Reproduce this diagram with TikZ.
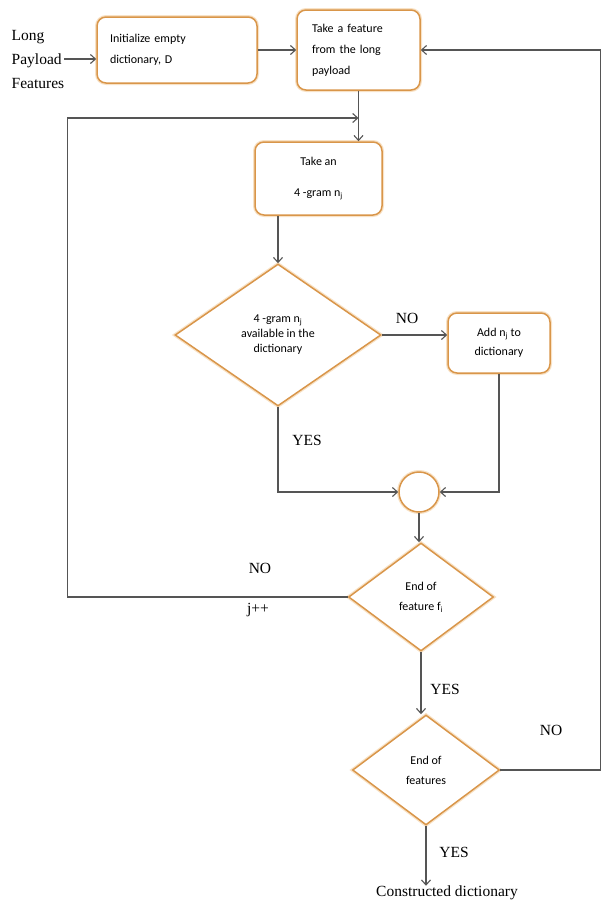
\documentclass[tikz,border=0pt]{standalone}
\usepackage{fontspec}
\setmainfont{Liberation Serif}
\newfontfamily\boxfont{Carlito}
\usepackage{tikz}
\usetikzlibrary{positioning, shapes.geometric, calc, arrows.meta}
\definecolor{Amber}{HTML}{D9964A}
\definecolor{Glow}{HTML}{F8E2C6}
\definecolor{Slate}{HTML}{555555}

\begin{document}
\begin{tikzpicture}[x=1pt, y=-1pt,
    every node/.style={font=\fontsize{15.5}{24}\selectfont},
    procbox/.style={rectangle, rounded corners=9pt, draw=Amber, line width=1.5pt,
        preaction={draw=Glow, line width=4pt}, fill=white, inner sep=0pt,
        font=\boxfont\fontsize{12}{21}\selectfont},
    decision/.style={diamond, draw=Amber, line width=1.5pt,
        preaction={draw=Glow, line width=4pt}, fill=white, inner sep=0pt,
        align=center, font=\boxfont\fontsize{12}{20}\selectfont},
    flow/.style={draw=Slate, line width=1.1pt},
    arr/.style={flow, -{Straight Barb[length=5pt, width=9pt]}},
    lbl/.style={inner sep=0pt}]
\useasboundingbox (0,0) rectangle (603,900);

% boxes and decisions
\node[lbl, align=left] (feat) at (38,59) {Long\\Payload\\Features};
\node[procbox, minimum width=160pt, minimum height=66pt, text width=134pt,
      align=left] (init) at (177,50) {Initialize empty\\dictionary, D};
\node[procbox, minimum width=123pt, minimum height=80pt, text width=93pt,
      align=left] (take) at (358.5,50) {Take a feature\\from the long\\payload};
\node[procbox, minimum width=127pt, minimum height=73pt, align=center,
      font=\boxfont\fontsize{12}{31}\selectfont] (gram) at (318.5,178.5)
      {Take an\\4 -gram n\textsubscript{j}};
\node[decision, minimum width=206pt, minimum height=142pt,
      font=\boxfont\fontsize{12}{15}\selectfont] (avail) at (278,335)
      {4 -gram n\textsubscript{j}\\available in the\\dictionary};
\node[procbox, minimum width=102pt, minimum height=60pt, align=center,
      font=\boxfont\fontsize{12}{19}\selectfont] (add) at (499,343)
      {Add n\textsubscript{j} to\\dictionary};
\node[circle, draw=Amber, line width=1.5pt, preaction={draw=Glow, line width=4pt},
      fill=white, minimum size=40pt, inner sep=0pt] (join) at (419,492) {};
\node[decision, minimum width=145pt, minimum height=108pt] (endf) at (421,597)
      {End of\\feature f\textsubscript{i}};
\node[decision, minimum width=147pt, minimum height=110pt] (ends) at (426,770)
      {End of\\features};
\node[lbl] (done) at (447,893) {Constructed dictionary};

% labels
\node[lbl] (no1) at (407,318) {NO};
\node[lbl] (yes1) at (307,440) {YES};
\node[lbl] (no2) at (260,568) {NO};
\node[lbl] (jinc) at (258,610) {j++};
\node[lbl] (yes2) at (445,689) {YES};
\node[lbl] (no3) at (551,730) {NO};
\node[lbl] (yes3) at (454,852) {YES};

\coordinate (loopin) at (take.south |- 0,118);

% connectors
\draw[arr] (feat.east) -- (feat.east -| init.west);
\draw[arr] (init.east) -- (init.east -| take.west);
\draw[arr] (take.south) -- (take.south |- gram.north);
\draw[arr] (endf.west) -- ++(-280,0) |- (loopin);
\draw[arr] (gram.south -| avail.north) -- (avail.north);
\draw[arr] (avail.east) -- (avail.east -| add.west);
\draw[arr] (avail.south) |- (join.west);
\draw[arr] (add.south) |- (join.east);
\draw[arr] (join.south) -- (join.south |- endf.north);
\draw[arr] (endf.south) -- (endf.south |- ends.north);
\draw[arr] (ends.south) -- (ends.south |- done.north);
\draw[arr] (ends.east) -- ++(100,0) |- (take.east);
\end{tikzpicture}
\end{document}
